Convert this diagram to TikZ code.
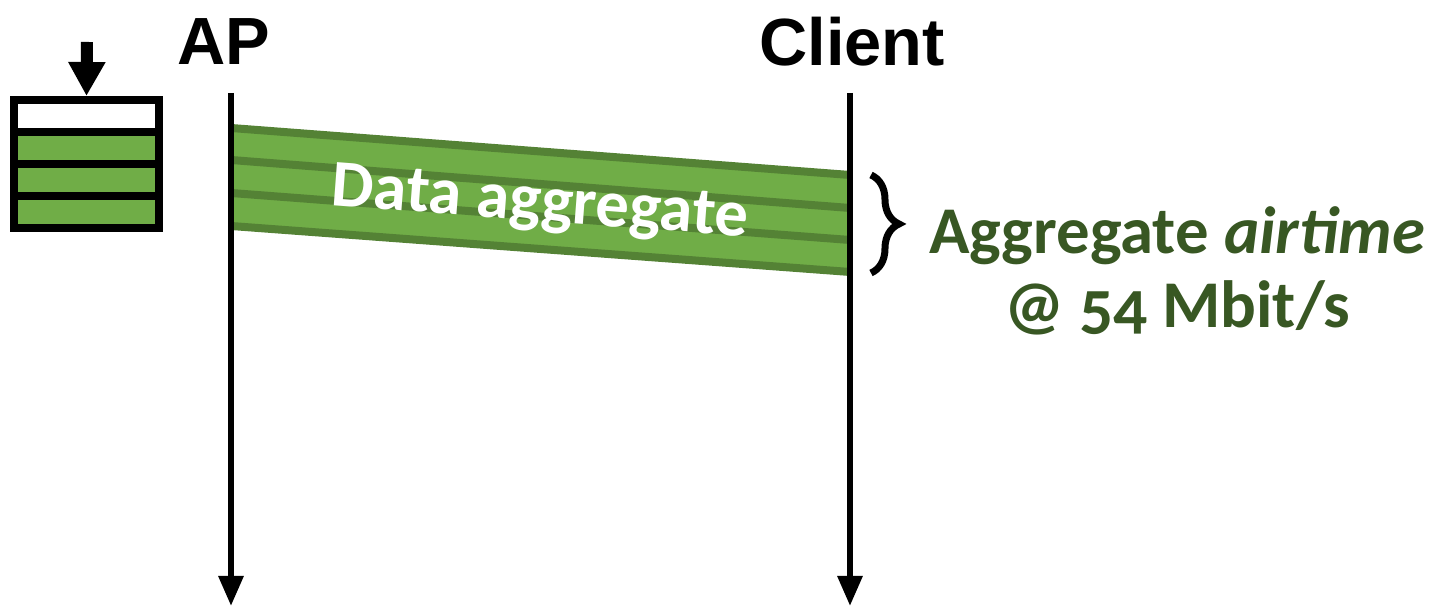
\documentclass[tikz,border=0pt]{standalone}
\usepackage{fontspec}
\setmainfont{Carlito}[Numbers=OldStyle]
\newfontfamily\headfont{Liberation Sans}
\usetikzlibrary{arrows.meta,calc,positioning,decorations.pathreplacing}

\begin{document}
\begin{tikzpicture}[
    font=\fontsize{19}{21}\selectfont,
    >=Triangle,
]

\definecolor{frameGreen}{RGB}{112, 173, 71}
\definecolor{edgeGreen}{RGB}{84, 130, 53}
\definecolor{labelGreen}{RGB}{56, 87, 35}

\tikzset{
    station/.style = {font=\headfont\bfseries\fontsize{19}{21}\selectfont, inner sep=0pt},
    lifeline/.style = {line width=0.6mm, -{Triangle[width=2.4mm, length=3mm]}},
    queuebox/.style = {rectangle, draw=black, line width=0.8mm, minimum width=1.45cm,
                       minimum height=1.28cm, inner sep=0pt},
    slot/.style = {draw=black, line width=0.8mm},
    frame_edge/.style = {draw=edgeGreen, line width=0.8mm},
    enqueue/.style = {line width=1.2mm, -{Triangle[width=3.5mm, length=3.4mm]}},
    airtime_label/.style = {font=\bfseries\fontsize{19}{21}\selectfont, color=labelGreen,
                            align=center, inner sep=0pt}
}

\useasboundingbox (0,0) rectangle (14.31,6.07);

% =========== STATIONS ===========
\node[station] (ap) at (2.24, 5.65) {AP};
\node[station] (client) at (8.52, 5.65) {Client};

% =========== QUEUE ===========
\fill[frameGreen] (0.14, 3.79) rectangle (1.59, 4.75);
\node[queuebox] (queue) at (0.865, 4.43) {};
\draw[slot] (queue.west |- 0, 4.75) -- (queue.east |- 0, 4.75);
\draw[slot] (queue.west |- 0, 4.43) -- (queue.east |- 0, 4.43);
\draw[slot] (queue.west |- 0, 4.11) -- (queue.east |- 0, 4.11);

\coordinate (qin) at (0.87, 5.65);
\draw[enqueue] (qin) -- (queue.north);

% =========== DATA AGGREGATE ===========
\coordinate (a1) at (2.31, 4.79);
\coordinate (a2) at (2.31, 4.47);
\coordinate (a3) at (2.31, 4.14);
\coordinate (a4) at (2.31, 3.81);
\coordinate (c1) at (8.50, 4.32);
\coordinate (c2) at (8.50, 3.99);
\coordinate (c3) at (8.50, 3.67);
\coordinate (c4) at (8.50, 3.35);

\fill[frameGreen] (a1) -- (c1) -- (c4) -- (a4) -- cycle;
\foreach \i in {1,...,4} {
    \draw[frame_edge] (a\i) -- (c\i);
}
\node[font=\bfseries\fontsize{19}{21}\selectfont, text=white, rotate=-4.3] (aggr)
    at (5.40, 4.02) {Data aggregate};

% =========== LIFELINES ===========
\coordinate (apTop) at (2.31, 5.14);
\coordinate (apEnd) at (2.31, 0.01);
\coordinate (clTop) at (8.50, 5.14);
\coordinate (clEnd) at (8.50, 0.01);
\draw[lifeline] (apTop) -- (apEnd);
\draw[lifeline] (clTop) -- (clEnd);

% =========== AIRTIME ===========
\coordinate (bTop) at (8.71, 4.32);
\coordinate (bEnd) at (8.71, 3.34);
\draw[line width=0.7mm, decorate, decoration={brace, amplitude=2.8mm}] (bTop) -- (bEnd);

\node[airtime_label] (airtime) at (11.77, 3.36)
    {Aggregate \textit{airtime}\\@ 54 Mbit/s};

\end{tikzpicture}
\end{document}
